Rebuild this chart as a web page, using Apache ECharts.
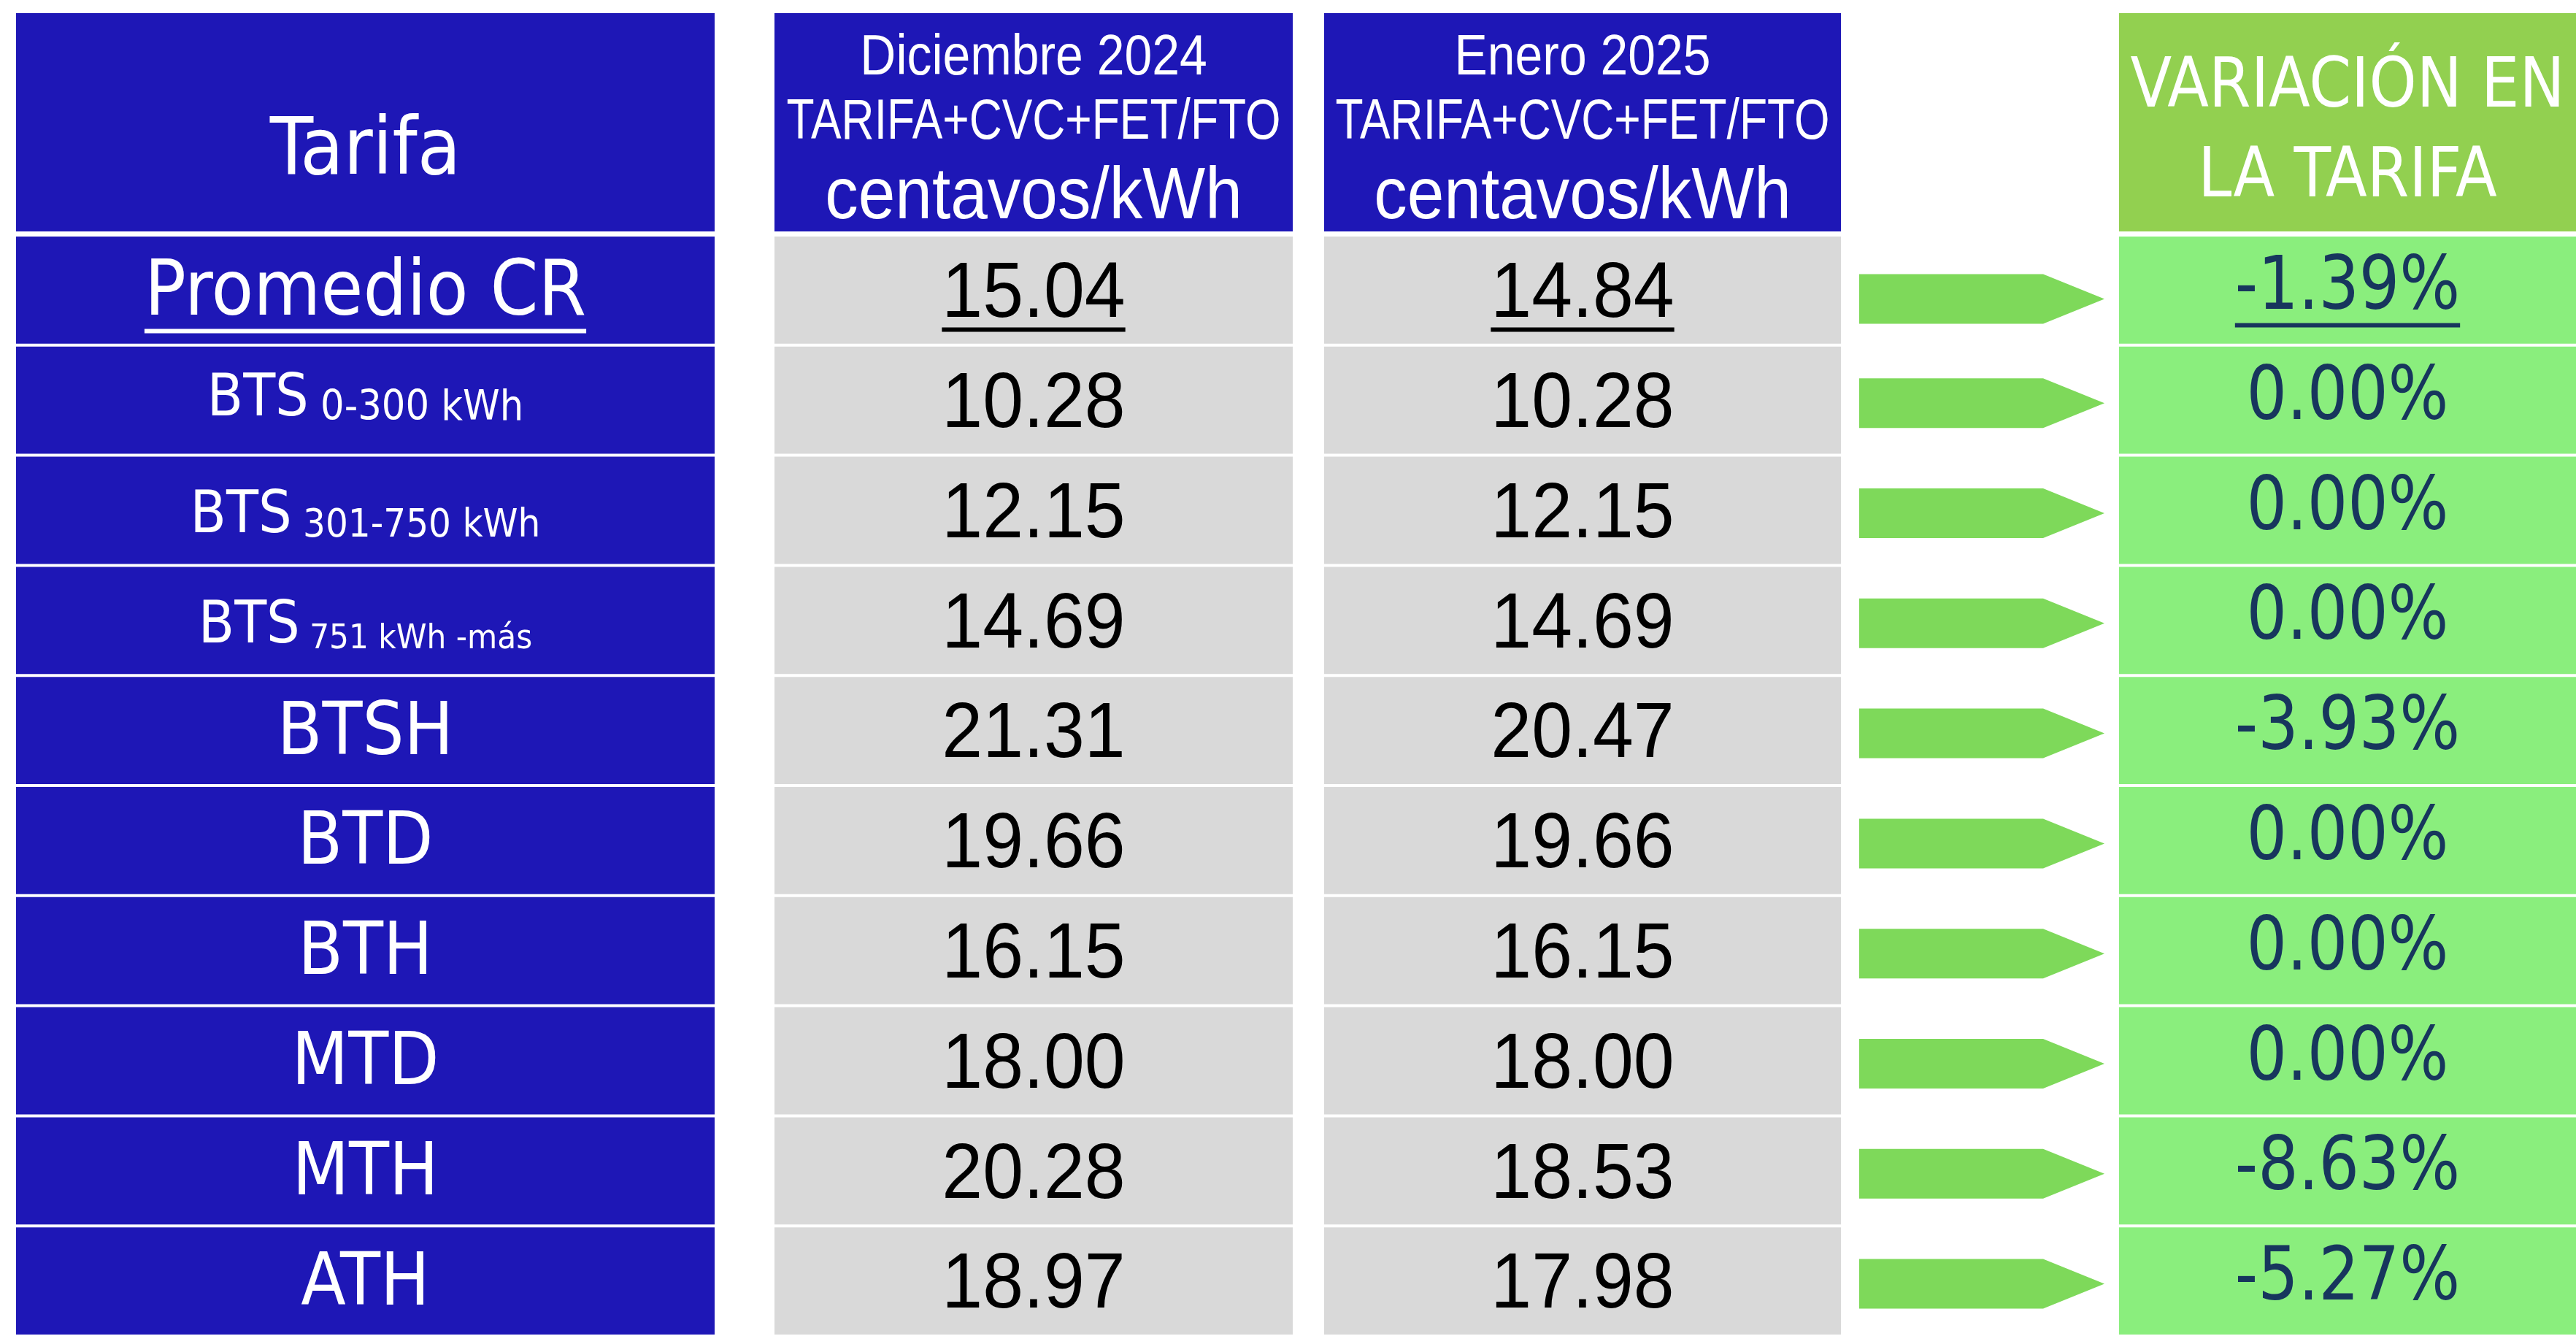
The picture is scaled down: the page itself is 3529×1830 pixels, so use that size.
<!DOCTYPE html>
<html><head><meta charset="utf-8">
<script src="https://cdn.jsdelivr.net/npm/echarts@6/dist/echarts.min.js"></script>
<style>html,body{margin:0;padding:0;background:#fff;}#c{width:3529px;height:1830px;}</style>
</head><body><div id="c"></div>
<script>
// ---------------- data ----------------
const tarifaNombres = ['Promedio CR','BTS','BTS','BTS','BTSH','BTD','BTH','MTD','MTH','ATH'];
const tarifaRangos  = ['', '0-300 kWh', '301-750 kWh', '751 kWh -más', '', '', '', '', '', ''];
const dic2024   = [15.04, 10.28, 12.15, 14.69, 21.31, 19.66, 16.15, 18.00, 20.28, 18.97];
const ene2025   = [14.84, 10.28, 12.15, 14.69, 20.47, 19.66, 16.15, 18.00, 18.53, 17.98];
const variacion = [-1.39, 0.00, 0.00, 0.00, -3.93, 0.00, 0.00, 0.00, -8.63, -5.27];
const encabezadoTarifa = ['Tarifa'];
const encabezadoDic = ['Diciembre 2024', 'TARIFA+CVC+FET/FTO', 'centavos/kWh'];
const encabezadoEne = ['Enero 2025', 'TARIFA+CVC+FET/FTO', 'centavos/kWh'];
const encabezadoVar = ['VARIACIÓN EN', 'LA TARIFA'];
const filaResaltada = 0;

// ---------------- styles / layout ----------------
const BLUE = '#1E17B6', GREY = '#D9D9D9', HEAD_GREEN = '#92D050', CELL_GREEN = '#8AEE7D',
      ARROW_GREEN = '#7ED95A', NAVY = '#17365D';
const F_COND = '"DejaVu Sans Condensed","DejaVu Sans",sans-serif';
const F_ARIAL = '"Liberation Sans",Arial,sans-serif';
const GAP = 4;
const HEAD_TOP = 18, HEAD_H = 299;
const BODY_TOP = 322, BODY_H = 1512;
const cols = {
  tarifa: {left: 22, width: 957},
  dic:    {left: 1061, width: 710},
  ene:    {left: 1814, width: 708},
  arrow:  {left: 2547, width: 336},
  vari:   {left: 2903, width: 680}
};
const headTarifaStyle = [{dy: 192, size: 108, family: F_COND, sx: 1}];
const headMesStyle = [
  {dy: 62, size: 78, family: F_ARIAL, sx: 0.87},
  {dy: 151, size: 77, family: F_ARIAL, sx: 0.81},
  {dy: 253, size: 100, family: F_ARIAL, sx: 0.91}
];
const headVarStyle = [{dy: 103, size: 95, family: F_COND, sx: 0.97}, {dy: 226, size: 95, family: F_COND, sx: 0.97}];
const rangoSizes = [0, 57, 54, 47];
const NUM_SIZE = 108, NUM_SX = 0.93;

const rowLabels = tarifaNombres.map((n, i) => tarifaRangos[i] ? n + ' ' + tarifaRangos[i] : n);

const measureCtx = document.createElement('canvas').getContext('2d');
function textWidth(str, size, family) { measureCtx.font = size + 'px ' + family; return measureCtx.measureText(str).width; }

const grids = [], xAxes = [], yAxes = [], series = [];
function addPanel(col, top, height, cats, def) {
  const gi = grids.length;
  grids.push({left: col.left, top: top, width: col.width, height: height, show: false});
  xAxes.push({type: 'value', gridIndex: gi, min: 0, max: 1, show: false});
  yAxes.push({type: 'category', gridIndex: gi, data: cats, inverse: true, show: false});
  series.push(Object.assign({type: 'custom', xAxisIndex: gi, yAxisIndex: gi, silent: true, animation: false, clip: false}, def));
}

function textEl(str, cx, cy, size, family, color, sx) {
  return {type: 'text', x: cx, y: cy, scaleX: sx, scaleY: 1,
          style: {text: str, x: 0, y: 0, fill: color, fontSize: size, fontFamily: family, align: 'center', verticalAlign: 'middle'}};
}

function headerRender(fill, texts, styles) {
  return function (params, api) {
    const c = api.coord([0.5, 0]); const s = api.size([1, 1]);
    const x0 = c[0] - s[0] / 2, y0 = c[1] - s[1] / 2;
    const children = [{type: 'rect', shape: {x: x0, y: y0, width: s[0], height: s[1]}, style: {fill: fill}}];
    texts.forEach((t, k) => children.push(textEl(t, c[0], y0 + styles[k].dy, styles[k].size, styles[k].family, '#fff', styles[k].sx)));
    return {type: 'group', children: children};
  };
}

function bodyRender(fill, textFn) {
  return function (params, api) {
    const i = api.value(1);
    const c = api.coord([0.5, i]); const s = api.size([1, 1]);
    const w = s[0], h = s[1];
    const children = [{type: 'rect', shape: {x: c[0] - w / 2, y: c[1] - h / 2 + GAP / 2, width: w, height: h - GAP}, style: {fill: fill}}];
    return {type: 'group', children: children.concat(textFn(i, c[0], c[1], api))};
  };
}

function plainText(str, cx, cy, size, family, color, underline, sx, ulOffset) {
  const els = [textEl(str, cx, cy, size, family, color, sx)];
  if (underline) {
    const tw = textWidth(str, size, family) * sx;
    els.push({type: 'rect', shape: {x: cx - tw / 2, y: cy + ulOffset, width: tw, height: 6}, style: {fill: color}});
  }
  return els;
}

// ---- Tarifa column ----
addPanel(cols.tarifa, HEAD_TOP, HEAD_H, ['h'], {data: [[0.5, 0]], renderItem: headerRender(BLUE, encabezadoTarifa, headTarifaStyle)});
addPanel(cols.tarifa, BODY_TOP, BODY_H, rowLabels, {
  data: rowLabels.map((n, i) => [0.5, i]),
  renderItem: bodyRender(BLUE, function (i, cx, cy) {
    if (tarifaRangos[i]) {
      return [{type: 'text', x: cx, y: cy + (i === 1 ? 0 : 9), style: {
        text: '{a|' + tarifaNombres[i] + '}{b| ' + tarifaRangos[i] + '}', x: 0, y: 0,
        align: 'center', verticalAlign: 'middle',
        rich: {a: {fontSize: 80, fontFamily: F_COND, fill: '#fff', verticalAlign: 'bottom'},
               b: {fontSize: rangoSizes[i], fontFamily: F_COND, fill: '#fff', verticalAlign: 'bottom'}}}}];
    }
    const big = i === filaResaltada ? 105 : 100;
    return plainText(tarifaNombres[i], cx, cy + 6, big, F_COND, '#fff', i === filaResaltada, 1, 47);
  })
});

// ---- Diciembre 2024 column ----
addPanel(cols.dic, HEAD_TOP, HEAD_H, ['h'], {data: [[0.5, 0]], renderItem: headerRender(BLUE, encabezadoDic, headMesStyle)});
addPanel(cols.dic, BODY_TOP, BODY_H, rowLabels, {
  data: dic2024.map((v, i) => [0.5, i, v]),
  renderItem: bodyRender(GREY, function (i, cx, cy) {
    return plainText(dic2024[i].toFixed(2), cx, cy + 7, NUM_SIZE, F_ARIAL, '#000', i === filaResaltada, NUM_SX, 44);
  })
});

// ---- Enero 2025 column ----
addPanel(cols.ene, HEAD_TOP, HEAD_H, ['h'], {data: [[0.5, 0]], renderItem: headerRender(BLUE, encabezadoEne, headMesStyle)});
addPanel(cols.ene, BODY_TOP, BODY_H, rowLabels, {
  data: ene2025.map((v, i) => [0.5, i, v]),
  renderItem: bodyRender(GREY, function (i, cx, cy) {
    return plainText(ene2025[i].toFixed(2), cx, cy + 7, NUM_SIZE, F_ARIAL, '#000', i === filaResaltada, NUM_SX, 44);
  })
});

// ---- arrows ----
addPanel(cols.arrow, BODY_TOP, BODY_H, rowLabels, {
  data: variacion.map((v, i) => [0.5, i, v]),
  renderItem: function (params, api) {
    const i = api.value(1); const c = api.coord([0.5, i]); const s = api.size([1, 1]);
    const L = s[0], x0 = c[0] - L / 2, H = 68, head = 84, cy = c[1] + (i === 0 ? 12 : 4);
    return {type: 'polygon', shape: {points: [[x0, cy - H / 2], [x0 + L - head, cy - H / 2], [x0 + L, cy], [x0 + L - head, cy + H / 2], [x0, cy + H / 2]]},
            style: {fill: ARROW_GREEN}};
  }
});

// ---- Variación column ----
addPanel(cols.vari, HEAD_TOP, HEAD_H, ['h'], {data: [[0.5, 0]], renderItem: headerRender(HEAD_GREEN, encabezadoVar, headVarStyle)});
addPanel(cols.vari, BODY_TOP, BODY_H, rowLabels, {
  data: variacion.map((v, i) => [0.5, i, v]),
  renderItem: bodyRender(CELL_GREEN, function (i, cx, cy) {
    return plainText(variacion[i].toFixed(2) + '%', cx, cy - 1, 102, F_COND, NAVY, i === filaResaltada, 0.95, 46);
  })
});

const chart = echarts.init(document.getElementById('c'), null, {renderer: 'canvas', width: 3529, height: 1830});
chart.setOption({
  backgroundColor: '#ffffff',
  animation: false,
  grid: grids, xAxis: xAxes, yAxis: yAxes, series: series
});
</script>
</body></html>
